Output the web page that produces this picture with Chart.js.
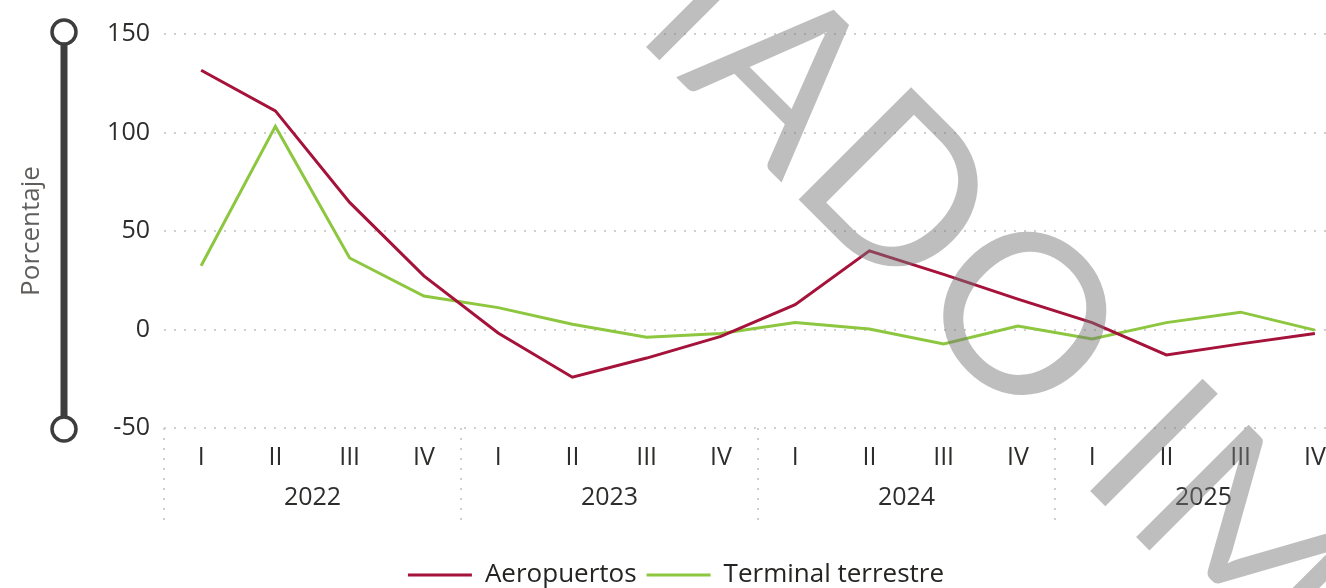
<!DOCTYPE html>
<html>
<head>
<meta charset="utf-8">
<script src="https://cdn.jsdelivr.net/npm/chart.js@4.4.1/dist/chart.umd.min.js"></script>
<style>
  html, body { margin: 0; padding: 0; background: #fff; overflow: hidden; }
  #wrap { width: 1352px; height: 600px; position: relative; }
</style>
</head>
<body>
<div id="wrap"><canvas id="tasaChart"></canvas></div>
<script>
const quarters = ['I', 'II', 'III', 'IV', 'I', 'II', 'III', 'IV', 'I', 'II', 'III', 'IV', 'I', 'II', 'III', 'IV'];
const years = ['2022', '2023', '2024', '2025'];
const aeropuertos = [131.6, 111.0, 64.5, 27.2, -1.8, -24.2, -14.5, -3.5, 12.6, 39.9, 28.0, 15.4, 3.5, -12.9, -7.3, -2.0];
const terminalTerrestre = [32.4, 103.1, 36.3, 17.0, 11.1, 2.7, -3.9, -2.0, 3.5, 0.3, -7.3, 1.8, -4.8, 3.5, 8.8, -0.3];
const yTicks = [-50, 0, 50, 100, 150];
const watermarkText = 'MADO IM';

const fontFamily = "'Open Sans', 'Noto Sans', sans-serif";
const textColor = '#2e2d2c';
const gridColor = '#cfcfcf';

// slider on the left + axis title + year separators + watermark
const decorPlugin = {
    id: 'decor',
    beforeDraw(chart) {
        const ctx = chart.ctx;
        const area = chart.chartArea;
        const xScale = chart.scales.x;
        const bottom = chart.scales.x2.top + 52;
        ctx.save();
        ctx.strokeStyle = gridColor;
        ctx.lineWidth = 2;
        ctx.setLineDash([2, 8]);
        const seps = [area.left];
        for (let i = 4; i < quarters.length; i += 4) {
            seps.push((xScale.getPixelForValue(i - 1) + xScale.getPixelForValue(i)) / 2);
        }
        seps.forEach(x => {
            ctx.beginPath();
            ctx.moveTo(Math.round(x), area.bottom);
            ctx.lineTo(Math.round(x), bottom);
            ctx.stroke();
        });
        ctx.restore();
    },
    afterDraw(chart) {
        const ctx = chart.ctx;
        const area = chart.chartArea;
        const sx = 64;
        ctx.save();
        // slider bar
        ctx.fillStyle = '#3d3d3d';
        ctx.fillRect(sx - 3.5, area.top, 7, area.bottom - area.top);
        [area.top - 2, area.bottom + 1].forEach(cy => {
            ctx.beginPath();
            ctx.arc(sx, cy, 12, 0, Math.PI * 2);
            ctx.fillStyle = '#fff';
            ctx.fill();
            ctx.lineWidth = 3.5;
            ctx.strokeStyle = '#3d3d3d';
            ctx.stroke();
        });
        // axis title
        ctx.translate(32, (area.top + area.bottom) / 2);
        ctx.rotate(-Math.PI / 2);
        ctx.fillStyle = '#605e5c';
        ctx.font = "26px " + fontFamily;
        ctx.textAlign = 'center';
        ctx.textBaseline = 'middle';
        ctx.fillText('Porcentaje', 0, 0);
        ctx.restore();

        // watermark
        ctx.save();
        ctx.translate(1025, 313);
        ctx.rotate(Math.PI / 4);
        ctx.font = "222px Lato, 'Noto Sans', sans-serif";
        ctx.letterSpacing = '3px';
        ctx.fillStyle = 'rgba(120,120,120,0.48)';
        ctx.textBaseline = 'alphabetic';
        ctx.textAlign = 'left';
        const before = ctx.measureText('MAD').width + (ctx.measureText('O').width - 3) / 2;
        ctx.fillText(watermarkText, -before, 222 * 0.36);
        ctx.restore();
    }
};

new Chart(document.getElementById('tasaChart').getContext('2d'), {
    type: 'line',
    data: {
        labels: quarters,
        datasets: [{
            label: 'Aeropuertos',
            data: aeropuertos,
            borderColor: '#a5123a',
            backgroundColor: '#a5123a',
            borderWidth: 3,
            pointRadius: 0,
            tension: 0
        }, {
            label: 'Terminal terrestre',
            data: terminalTerrestre,
            borderColor: '#8dc63f',
            backgroundColor: '#8dc63f',
            borderWidth: 3,
            pointRadius: 0,
            tension: 0
        }]
    },
    options: {
        responsive: true,
        maintainAspectRatio: false,
        animation: false,
        layout: {
            padding: { top: 34, right: 0, bottom: 2, left: 0 }
        },
        scales: {
            x: {
                type: 'category',
                offset: true,
                weight: 0,
                grid: { display: false, drawTicks: false },
                border: { display: false },
                ticks: {
                    color: textColor,
                    font: { family: fontFamily, size: 25 },
                    padding: 15,
                    maxRotation: 0,
                    autoSkip: false
                },
                afterFit: (s) => { s.height = 40; }
            },
            x2: {
                type: 'category',
                labels: years,
                position: 'bottom',
                offset: true,
                weight: 1,
                grid: { display: false, drawTicks: false },
                border: { display: false },
                ticks: {
                    color: textColor,
                    font: { family: fontFamily, size: 25 },
                    padding: 15,
                    maxRotation: 0
                },
                afterFit: (s) => { s.height = 84; }
            },
            y: {
                min: -50,
                max: 150,
                afterBuildTicks: (s) => { s.ticks = yTicks.map(v => ({ value: v })); },
                grid: { color: gridColor, lineWidth: 2, drawTicks: false },
                border: { display: false, dash: [2, 8] },
                ticks: {
                    color: textColor,
                    font: { family: fontFamily, size: 25 },
                    padding: 14
                },
                afterFit: (s) => { s.width = 164; }
            }
        },
        plugins: {
            legend: {
                position: 'bottom',
                labels: {
                    usePointStyle: true,
                    pointStyle: 'line',
                    pointStyleWidth: 64,
                    color: '#252423',
                    font: { family: fontFamily, size: 26 },
                    padding: 10
                }
            },
            tooltip: { enabled: false }
        }
    },
    plugins: [decorPlugin]
});
</script>
</body>
</html>
